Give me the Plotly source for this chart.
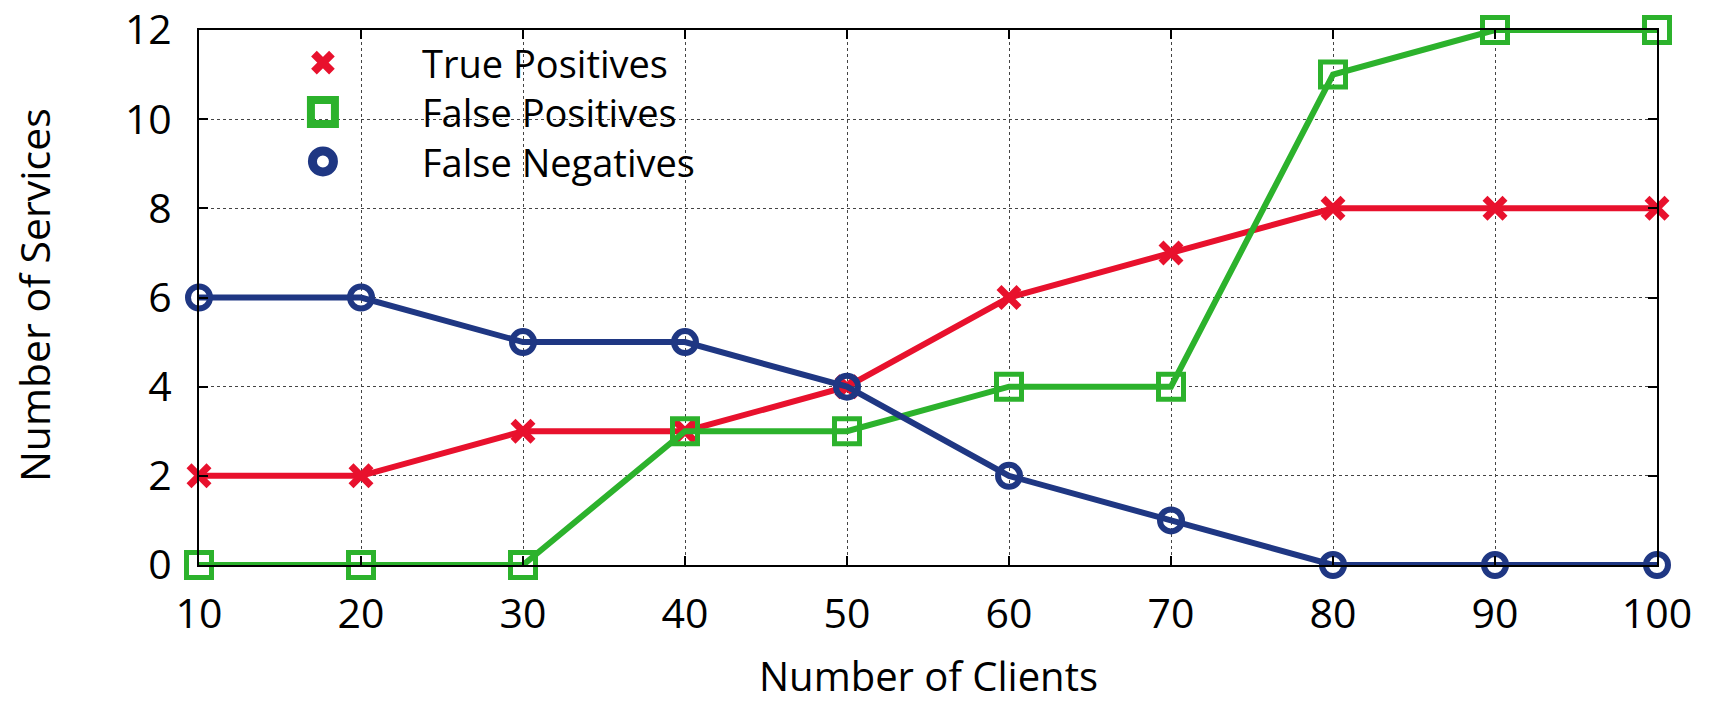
import plotly.graph_objects as go

clients = [10, 20, 30, 40, 50, 60, 70, 80, 90, 100]
true_positives = [2, 2, 3, 3, 4, 6, 7, 8, 8, 8]
false_positives = [0, 0, 0, 3, 3, 4, 4, 11, 12, 12]
false_negatives = [6, 6, 5, 5, 4, 2, 1, 0, 0, 0]

series_names = ["True Positives", "False Positives", "False Negatives"]
x_ticks = [10, 20, 30, 40, 50, 60, 70, 80, 90, 100]
y_ticks = [0, 2, 4, 6, 8, 10, 12]

RED = "#e8112d"
GREEN = "#2cb22c"
BLUE = "#1f3783"
FONT = "Open Sans"

# (colour, symbol, size, stroke) for plotted points and for key symbols
styles = [
    (RED, "x-thin-open", 20, 7),
    (GREEN, "square-open", 25, 5),
    (BLUE, "circle-open", 22, 6),
]
key_styles = [
    (RED, "x-thin-open", 18, 8),
    (GREEN, "square-open", 24, 8),
    (BLUE, "circle-open", 21, 9),
]

# key placement, in plot-area fractions; one text block with three lines
KEY_FONT = 38
KEY_SYMBOL_X = 0.085
KEY_TEXT_X = 0.152
KEY_MID_Y = 0.8467
KEY_ROW_STEP = KEY_FONT * 1.3 / 535  # line pitch of the text block, as a plot fraction
KEY_ROWS_Y = [KEY_MID_Y + KEY_ROW_STEP, KEY_MID_Y, KEY_MID_Y - KEY_ROW_STEP]

fig = go.Figure()
for name, values, (color, symbol, size, lw) in zip(
        series_names, [true_positives, false_positives, false_negatives], styles):
    fig.add_trace(go.Scatter(
        x=clients, y=values, mode="lines+markers", name=name,
        line=dict(color=color, width=6),
        marker=dict(symbol=symbol, size=size, color=color,
                    line=dict(color=color, width=lw)),
        cliponaxis=False, showlegend=False,
    ))

# key symbols on a hidden unit overlay axis
for (color, symbol, size, lw), ky, name in zip(key_styles, KEY_ROWS_Y, series_names):
    fig.add_trace(go.Scatter(
        x=[KEY_SYMBOL_X], y=[ky], mode="markers", name=name,
        xaxis="x2", yaxis="y2", showlegend=False, hoverinfo="skip",
        marker=dict(symbol=symbol, size=size, color=color,
                    line=dict(color=color, width=lw)),
    ))

fig.add_annotation(
    x=KEY_TEXT_X, y=KEY_MID_Y, xref="paper", yref="paper",
    xanchor="left", yanchor="middle", align="left", showarrow=False,
    text="<br>".join(series_names), borderpad=0,
    font=dict(family=FONT, size=KEY_FONT, color="black"),
)

axis_common = dict(
    showline=True, linecolor="black", linewidth=2, mirror="ticks",
    ticks="inside", ticklen=9, tickwidth=2, tickcolor="black",
    showgrid=True, gridcolor="#444444", gridwidth=1, griddash="dot",
    zeroline=False, automargin=False,
    tickfont=dict(family=FONT, size=41, color="black"),
)

fig.update_layout(
    width=1713, height=704,
    margin=dict(l=199, r=56, t=30, b=139),
    paper_bgcolor="white", plot_bgcolor="white",
    showlegend=False,
    xaxis=dict(range=[10, 100], tickvals=x_ticks, ticklabelstandoff=12, **axis_common),
    yaxis=dict(range=[0, 12], tickvals=y_ticks, ticklabelstandoff=17, **axis_common),
    xaxis2=dict(range=[0, 1], overlaying="x", visible=False, fixedrange=True),
    yaxis2=dict(range=[0, 1], overlaying="y", visible=False, fixedrange=True),
)

fig.add_annotation(
    x=0.5, y=-0.207, xref="paper", yref="paper", xanchor="center", yanchor="middle",
    showarrow=False, text="Number of Clients", borderpad=0,
    font=dict(family=FONT, size=40, color="black"),
)
fig.add_annotation(
    x=-0.113, y=0.505, xref="paper", yref="paper", xanchor="center", yanchor="middle",
    showarrow=False, text="Number of Services", textangle=-90,
    font=dict(family=FONT, size=41, color="black"),
)

fig.write_html("out.html")
